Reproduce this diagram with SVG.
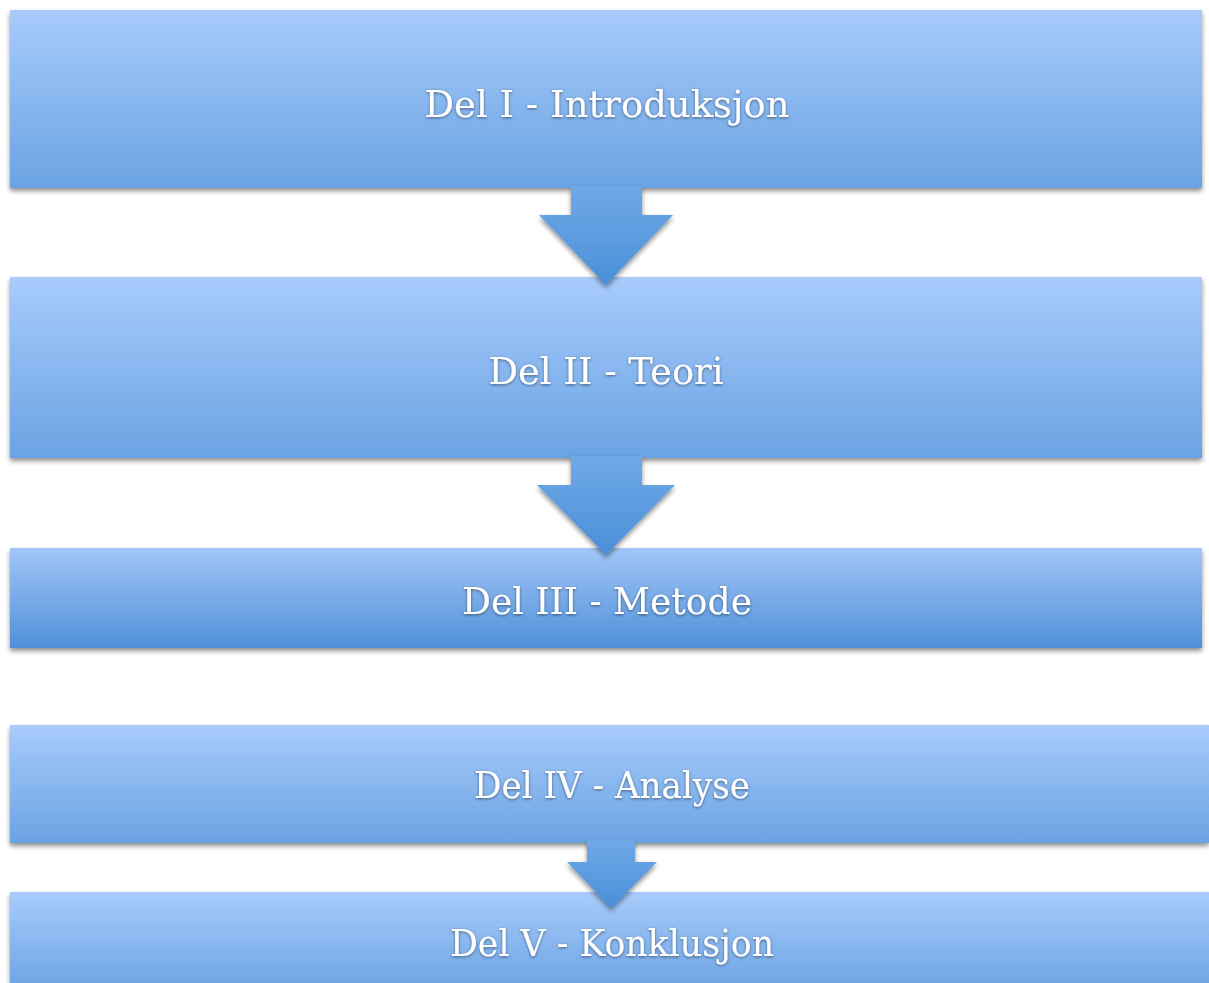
<svg xmlns="http://www.w3.org/2000/svg" width="1209" height="983" viewBox="0 0 1209 983">
<defs>
<linearGradient id="gBox" x1="0" y1="0" x2="0" y2="1">
<stop offset="0" stop-color="#a8cbfb"/>
<stop offset="1" stop-color="#6aa3e3"/>
</linearGradient>
<linearGradient id="gBox3" x1="0" y1="0" x2="0" y2="1">
<stop offset="0" stop-color="#a2c6f8"/>
<stop offset="1" stop-color="#4f90d8"/>
</linearGradient>
<linearGradient id="gArr" x1="0" y1="0" x2="0" y2="1">
<stop offset="0" stop-color="#70a9e7"/>
<stop offset="1" stop-color="#4a8fd8"/>
</linearGradient>
<filter id="sh" x="-5%" y="-20%" width="110%" height="150%">
<feGaussianBlur in="SourceAlpha" stdDeviation="2.5"/>
<feOffset dx="0" dy="3" result="b"/>
<feComponentTransfer><feFuncA type="linear" slope="0.45"/></feComponentTransfer>
<feMerge><feMergeNode/><feMergeNode in="SourceGraphic"/></feMerge>
</filter>
<filter id="tsh" x="-10%" y="-30%" width="120%" height="160%">
<feGaussianBlur in="SourceAlpha" stdDeviation="1.5"/>
<feOffset dx="0" dy="0.5"/>
<feComponentTransfer><feFuncA type="linear" slope="0.5"/></feComponentTransfer>
<feMerge><feMergeNode/><feMergeNode in="SourceGraphic"/></feMerge>
</filter>
</defs>
<style>
.box{fill:url(#gBox);filter:url(#sh)}
.arr{fill:url(#gArr);filter:url(#sh)}
.lbl{font-family:"DejaVu Serif","Liberation Serif",serif;font-size:38px;fill:#ffffff;text-anchor:middle;filter:url(#tsh)}
</style>
<g id="n1"><rect class="box" x="10" y="10" width="1192" height="178"/><text class="lbl" x="607" y="117" textLength="365" lengthAdjust="spacingAndGlyphs">Del I - Introduksjon</text></g>
<g id="n2"><rect class="box" x="10" y="277" width="1192" height="181"/><text class="lbl" x="606" y="384" textLength="235" lengthAdjust="spacingAndGlyphs">Del II - Teori</text></g>
<g id="n3"><rect x="10" y="548" width="1192" height="100" fill="url(#gBox3)" filter="url(#sh)"/><text class="lbl" x="607" y="614" textLength="290" lengthAdjust="spacingAndGlyphs">Del III - Metode</text></g>
<g id="n4"><rect class="box" x="10" y="725" width="1199" height="118"/><text class="lbl" x="612" y="798" textLength="276" lengthAdjust="spacingAndGlyphs">Del IV - Analyse</text></g>
<g id="n5"><rect class="box" x="10" y="892" width="1199" height="100"/><text class="lbl" x="612" y="956" textLength="324" lengthAdjust="spacingAndGlyphs">Del V - Konklusjon</text></g>
<g id="connectors">
<polygon class="arr" points="571,186 642,186 642,215 673,215 606,285 539,215 571,215"/>
<polygon class="arr" points="571,456 642,456 642,485 675,485 606,555 537,485 571,485"/>
<polygon class="arr" points="587,840 635,840 635,862 657,862 611,908 567,862 587,862"/>
</g>
</svg>
